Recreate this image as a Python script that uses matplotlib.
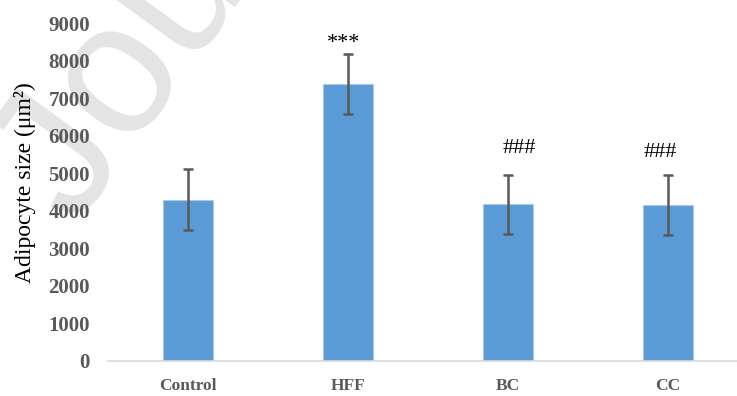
import matplotlib
matplotlib.use("Agg")
import matplotlib.pyplot as plt

groups = ["Control", "HFF", "BC", "CC"]
sizes = [4290, 7370, 4175, 4150]
errors = [810, 800, 790, 800]
marks = ["", "***", "###", "###"]
mark_y = [0, 8450, 5660, 5560]
mark_dx = [0, -0.025, 0.07, -0.05]

plt.rcParams['font.family'] = ['Liberation Serif', 'DejaVu Serif']

fig = plt.figure(figsize=(7.37, 3.96), dpi=100)
ax = fig.add_axes([108/737, 35/396, 629/737, 338/396])

# watermark from the source page (only its start is visible)
fig.text(0.10, 0.43, "Journal", family="Liberation Sans", fontsize=135,
         color="#e4e4e4", rotation=54, rotation_mode="anchor", ha="left", va="baseline", zorder=0)
ax.set_zorder(1)
ax.patch.set_alpha(0)

x = range(len(groups))
ax.bar(x, sizes, width=0.31, color="#5b9bd5", edgecolor="#a9c8ea", linewidth=0.8, zorder=2)
ax.errorbar(x, sizes, yerr=errors, fmt="none", ecolor="#595959", elinewidth=1.8,
            capsize=3.3, capthick=1.8, zorder=3)
for i in x:
    if marks[i]:
        ax.text(i + mark_dx[i], mark_y[i], marks[i], ha="center", va="center", fontsize=16, color="black")

ax.set_xlim(-0.5, 3.43)
ax.set_ylim(0, 9000)
ax.set_yticks(range(0, 9001, 1000))
ax.set_xticks(list(x))
ax.set_xticklabels(groups)
for s in ["top", "right", "left"]:
    ax.spines[s].set_visible(False)
ax.spines["bottom"].set_color("#d9d9d9")
ax.spines["bottom"].set_linewidth(1.2)
ax.tick_params(axis="both", length=0)
ax.tick_params(axis="y", pad=13, labelsize=15, labelcolor="#595959")
ax.tick_params(axis="x", pad=12, labelsize=12.5, labelcolor="#595959")
for lab in ax.get_xticklabels() + ax.get_yticklabels():
    lab.set_fontweight("bold")

fig.text(25/737, 1 - 183/396, "Adipocyte size (μm²)", rotation=90, ha="center", va="center", fontsize=17)

fig.savefig("out.png", dpi=100)
